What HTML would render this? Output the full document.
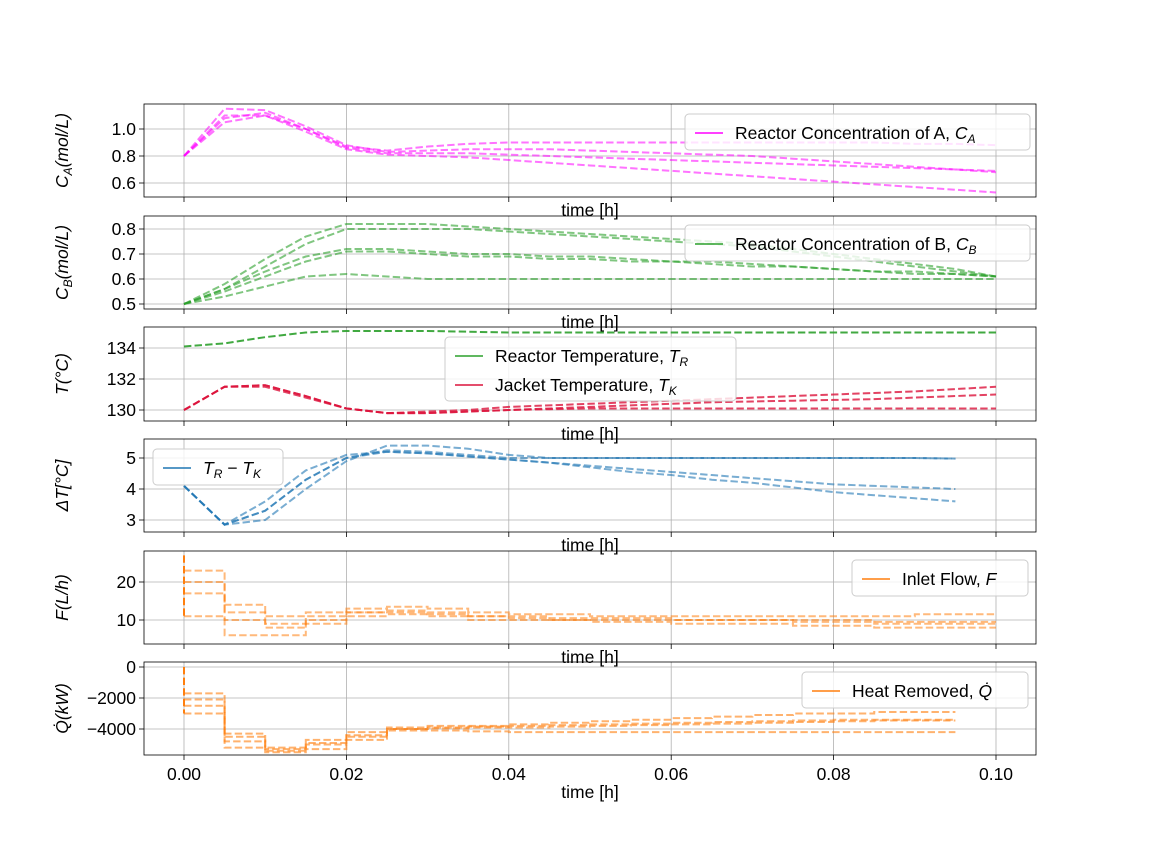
<!DOCTYPE html>
<html><head><meta charset="utf-8"><style>
body{margin:0;background:#fff}
svg{display:block;font-family:"Liberation Sans",sans-serif}
</style></head><body>
<svg id="c" width="1152" height="864"></svg>
<script>
const times=[0,0.005,0.01,0.015,0.02,0.025,0.03,0.035,0.04,0.045,0.05,0.055,0.06,0.065,0.07,0.075,0.08,0.085,0.09,0.095,0.1];
const caUpper=[0.80,1.10,1.10,1.00,0.87,0.84,0.87,0.89,0.90,0.90,0.90,0.90,0.90,0.90,0.90,0.90,0.90,0.90,0.89,0.89,0.88];
const caMid=[0.80,1.08,1.12,1.00,0.86,0.82,0.82,0.82,0.81,0.80,0.79,0.78,0.77,0.76,0.75,0.74,0.73,0.72,0.71,0.70,0.69];
const caLow=[0.80,1.05,1.10,0.98,0.85,0.81,0.80,0.79,0.77,0.75,0.73,0.71,0.69,0.67,0.65,0.63,0.61,0.59,0.57,0.55,0.53];
const caHigh=[0.80,1.15,1.14,1.02,0.88,0.83,0.84,0.85,0.85,0.85,0.84,0.83,0.82,0.81,0.80,0.78,0.76,0.74,0.72,0.70,0.68];
const cbTop=[0.5,0.58,0.68,0.77,0.82,0.82,0.82,0.81,0.80,0.79,0.78,0.77,0.76,0.75,0.74,0.72,0.70,0.68,0.66,0.64,0.61];
const cbTop2=[0.5,0.56,0.65,0.74,0.80,0.80,0.80,0.80,0.79,0.78,0.77,0.76,0.75,0.74,0.73,0.71,0.69,0.67,0.65,0.63,0.61];
const cbMid=[0.5,0.56,0.63,0.69,0.72,0.72,0.71,0.70,0.70,0.69,0.69,0.68,0.67,0.67,0.66,0.65,0.64,0.63,0.63,0.62,0.61];
const cbMid2=[0.5,0.55,0.61,0.67,0.71,0.71,0.70,0.69,0.69,0.68,0.68,0.67,0.67,0.66,0.65,0.65,0.64,0.63,0.62,0.62,0.61];
const cbLow=[0.5,0.53,0.57,0.61,0.62,0.61,0.60,0.60,0.60,0.60,0.60,0.60,0.60,0.60,0.60,0.60,0.60,0.60,0.60,0.60,0.60];
const trVals=[134.1,134.3,134.7,135.0,135.1,135.1,135.1,135.05,135.0,135.0,135.0,135.0,135.0,135.0,135.0,135.0,135.0,135.0,135.0,135.0,135.0];
const tkUpper=[130,131.5,131.6,130.9,130.1,129.8,129.9,130.0,130.2,130.3,130.4,130.5,130.6,130.7,130.8,130.9,131.0,131.1,131.2,131.35,131.5];
const tkMid=[130,131.5,131.6,130.9,130.1,129.8,129.8,129.9,130.0,130.1,130.2,130.3,130.4,130.5,130.55,130.6,130.65,130.7,130.8,130.9,131.0];
const tkLow=[130,131.5,131.5,130.8,130.1,129.8,129.8,129.9,130.0,130.05,130.1,130.1,130.1,130.1,130.1,130.1,130.1,130.1,130.1,130.1,130.1];
const dtUpper=[4.1,2.85,3.3,4.3,5.0,5.25,5.2,5.1,5.0,5.0,5.0,5.0,5.0,5.0,5.0,5.0,5.0,5.0,5.0,4.98];
const dtUpper2=[4.1,2.85,3.0,4.0,4.9,5.4,5.4,5.3,5.1,5.0,5.0,5.0,5.0,5.0,5.0,5.0,5.0,5.0,5.0,4.98];
const dtMid=[4.1,2.85,3.3,4.3,5.0,5.2,5.15,5.05,4.95,4.85,4.75,4.65,4.55,4.45,4.35,4.25,4.15,4.1,4.05,4.0];
const dtLow=[4.1,2.85,3.6,4.6,5.1,5.2,5.15,5.05,4.95,4.85,4.7,4.55,4.45,4.3,4.2,4.05,3.9,3.8,3.7,3.6];
const fA=[23,14,11,12,13,13.5,13,12,11.5,11.5,11,11,11,11,11,11,11,11,11.5,11.5];
const fB=[17,10,9,10,12,12,11.5,11,10.5,10,10,10,10,10,10,9.5,9.5,9.5,9.5,9.5];
const fC=[11,6,6,9,11,11.5,11,10,10,10,9.5,9.5,9,9,9,8.5,8.5,8,8,8];
const fD=[20,12,8,11,12,12.5,12,11,11,10.5,10.5,10.5,10,10,10,10,10,9,9,9];
const qA=[-1700,-4500,-5200,-4700,-4200,-3900,-3800,-3800,-3700,-3600,-3500,-3400,-3300,-3200,-3100,-3000,-3000,-2900,-2900];
const qB=[-2500,-4800,-5400,-5000,-4500,-4000,-3900,-3850,-3800,-3750,-3700,-3650,-3600,-3550,-3500,-3450,-3400,-3400,-3400];
const qC=[-3000,-5200,-5500,-5300,-4700,-4100,-4100,-4150,-4200,-4200,-4200,-4200,-4200,-4200,-4200,-4200,-4200,-4200,-4200];
const qD=[-2100,-4300,-5300,-4900,-4400,-4000,-3950,-3900,-3900,-3850,-3800,-3750,-3700,-3650,-3600,-3550,-3500,-3450,-3450];
const xTicks=[0,0.02,0.04,0.06,0.08,0.10];
const xTickLabels=["0.00","0.02","0.04","0.06","0.08","0.10"];

const NS="http://www.w3.org/2000/svg";
const svg=document.getElementById('c');
function el(t,a,p){const e=document.createElementNS(NS,t);for(const k in a)e.setAttribute(k,a[k]);(p||svg).appendChild(e);return e;}
const L=144,R=1036;
function X(t){return 184+t*8120;}
const panels=[
 {top:104,bot:197,v0:1.0,p0:129,s:135,ticks:[0.6,0.8,1.0],labels:["0.6","0.8","1.0"],name:"ca"},
 {top:216,bot:309,v0:0.8,p0:229,s:250,ticks:[0.5,0.6,0.7,0.8],labels:["0.5","0.6","0.7","0.8"],name:"cb"},
 {top:327,bot:421,v0:134,p0:348,s:15.5,ticks:[130,132,134],labels:["130","132","134"],name:"temp"},
 {top:439,bot:532,v0:5,p0:458,s:31,ticks:[3,4,5],labels:["3","4","5"],name:"dt"},
 {top:551,bot:644,v0:20,p0:582,s:3.8,ticks:[10,20],labels:["10","20"],name:"flow"},
 {top:662,bot:755,v0:0,p0:667,s:0.0155,ticks:[-4000,-2000,0],labels:["−4000","−2000","0"],name:"heat"}];
function Y(p,v){return p.p0-(v-p.v0)*p.s;}
const ylabels=[["C","A","(mol/L)"],["C","B","(mol/L)"],["T","","(°C)"],["ΔT","","[°C]"],["F","","(L/h)"],["Q̇","","(kW)"]];
panels.forEach((p,i)=>{
 const g=el('g',{});
 
 
 xTicks.forEach((t,j)=>{
  el('line',{x1:X(t),x2:X(t),y1:p.top,y2:p.bot,stroke:'#b0b0b0','stroke-width':0.8},g);
  el('line',{x1:X(t),x2:X(t),y1:p.bot,y2:p.bot+5,stroke:'#000','stroke-width':0.8},g);
  if(i==5){const tx=el('text',{x:X(t),y:p.bot+25,'font-size':17.5,'text-anchor':'middle'},g);tx.textContent=xTickLabels[j];}
 });
 p.ticks.forEach((v,j)=>{
  el('line',{x1:L,x2:R,y1:Y(p,v),y2:Y(p,v),stroke:'#b0b0b0','stroke-width':0.8},g);
  el('line',{x1:L-5,x2:L,y1:Y(p,v),y2:Y(p,v),stroke:'#000','stroke-width':0.8},g);
  const tx=el('text',{x:L-8,y:Y(p,v)+6,'font-size':17.5,'text-anchor':'end'},g);tx.textContent=p.labels[j];
 });
 const xl=el('text',{x:590,y:p.bot+(i==5?43:19),'font-size':17.5,'text-anchor':'middle'},g);
 
 
 xl.textContent='time [h]';
 const yl=ylabels[i];
 const ytx=el('text',{transform:`translate(68,${(p.top+p.bot)/2}) rotate(-90)`,'font-size':17.5,'text-anchor':'middle'},g);
 
 
 const a=el('tspan',{'font-style':'italic'},ytx);a.textContent=yl[0];
 if(yl[1]){const b=el('tspan',{'font-style':'italic','font-size':12,dy:4},ytx);b.textContent=yl[1];const c=el('tspan',{'font-style':'italic',dy:-4},ytx);c.textContent=yl[2];}
 else{const c=el('tspan',{'font-style':'italic'},ytx);c.textContent=yl[2];}
});
panels.forEach((p,i)=>{const cp=el('clipPath',{id:'cp'+i});el('rect',{x:L,y:p.top,width:R-L,height:p.bot-p.top},cp);});
function line(p,i,vals,color,op,name,step){
 let d='';
 if(!step){vals.forEach((v,k)=>{d+=(k?'L':'M')+X(times[k])+' '+Y(p,v);});}
 else{vals.forEach((v,k)=>{d+=(k?'L':'M')+X(times[k])+' '+Y(p,v)+'L'+X(times[k+1])+' '+Y(p,v);});}
 const e=el('path',{d:d,fill:'none',stroke:color,'stroke-width':2,'stroke-dasharray':'7.4 3.2','stroke-opacity':op,'clip-path':'url(#cp'+i+')'});
 
 
 return e;
}
const P=panels;
[caHigh,caUpper,caMid,caLow].forEach(s=>line(P[0],0,s,'#ff00ff',0.55,'ca-trajectory'));
[cbTop,cbTop2,cbMid,cbMid2,cbLow].forEach(s=>line(P[1],1,s,'#2ca02c',0.6,'cb-trajectory'));
line(P[2],2,trVals,'#2ca02c',0.9,'tr-trajectory');
[tkUpper,tkMid,tkLow].forEach(s=>line(P[2],2,s,'#dc143c',0.8,'tk-trajectory'));
[dtUpper,dtUpper2,dtMid,dtLow].forEach(s=>line(P[3],3,s,'#1f77b4',0.6,'dt-trajectory'));
[fA,fB,fC,fD].forEach(s=>line(P[4],4,s,'#ff7f0e',0.55,'flow-trajectory',true));
function spike(p,i,v0,v1,color,name){const e=el('line',{x1:X(0),x2:X(0),y1:Y(p,v0),y2:Y(p,v1),stroke:color,'stroke-width':2,'stroke-dasharray':'7.4 3.2','clip-path':'url(#cp'+i+')'});}
spike(P[4],4,27,fC[0],'#ff7f0e','flow-initial');
[qA,qB,qC,qD].forEach(s=>line(P[5],5,s,'#ff7f0e',0.6,'heat-trajectory',true));
spike(P[5],5,0,qC[0],'#ff7f0e','heat-initial');
panels.forEach(p=>{const r=el('rect',{x:L,y:p.top,width:R-L,height:p.bot-p.top,fill:'none',stroke:'#000','stroke-width':0.8});});
function legend(x,y,w,entries){
 const g=el('g',{});
 
 
 el('rect',{x:x,y:y,width:w,height:entries.length*28+8,rx:4,fill:'#fff','fill-opacity':0.8,stroke:'#ccc'},g);
 entries.forEach((e,k)=>{
  const yy=y+19+k*29;
  const li=el('line',{x1:x+10,x2:x+38,y1:yy,y2:yy,stroke:e[0],'stroke-width':1.5},g);
  
  
  const t=el('text',{x:x+50,y:yy+6,'font-size':17.5},g);
  
  
  const a=el('tspan',{},t);a.textContent=e[1];
  for(let m=2;m<e.length;m+=2){
   const b=el('tspan',{'font-style':'italic'},t);b.textContent=e[m];
   if(e[m+1]){const c=el('tspan',{'font-style':'italic','font-size':12,dy:4},t);c.textContent=e[m+1];const z=el('tspan',{dy:-4},t);z.textContent=(m+2<e.length)?' − ':'';}
  }
 });
}
legend(685,114,345,[['#ff00ff','Reactor Concentration of A, ','C','A']]);
legend(685,225,345,[['#2ca02c','Reactor Concentration of B, ','C','B']]);
legend(445,337,291,[['#2ca02c','Reactor Temperature, ','T','R'],['#dc143c','Jacket Temperature, ','T','K']]);
legend(153,449,130,[['#1f77b4','','T','R','T','K']]);
legend(852,560,176,[['#ff7f0e','Inlet Flow, ','F','']]);
legend(802,672,226,[['#ff7f0e','Heat Removed, ','Q̇','']]);
</script>
</body></html>
